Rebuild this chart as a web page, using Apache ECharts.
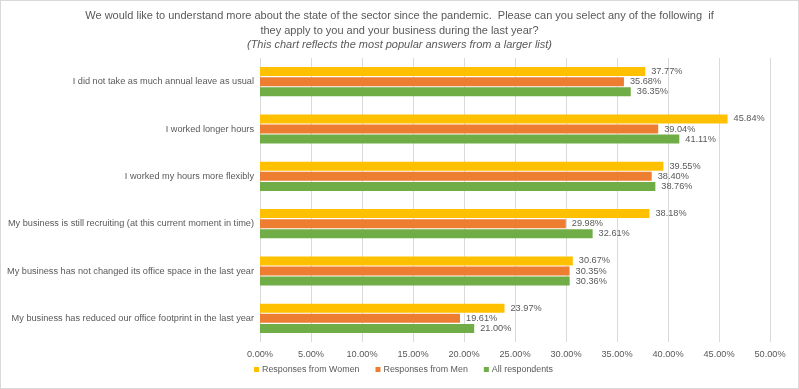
<!DOCTYPE html>
<html><head><meta charset="utf-8">
<script src="https://cdn.jsdelivr.net/npm/echarts@6/dist/echarts.min.js"></script>
<style>html,body{margin:0;padding:0;background:#fff}#c{width:799px;height:389px;box-sizing:border-box;border:1px solid #d9d9d9}</style>
</head><body><div id="c"></div>
<script>
const categories = [
  "I did not take as much annual leave as usual",
  "I worked longer hours",
  "I worked my hours more flexibly",
  "My business is still recruiting (at this current moment in time)",
  "My business has not changed its office space in the last year",
  "My business has reduced our office footprint in the last year"
];
const women = [37.77, 45.84, 39.55, 38.18, 30.67, 23.97];
const men = [35.68, 39.04, 38.40, 29.98, 30.35, 19.61];
const all = [36.35, 41.11, 38.76, 32.61, 30.36, 21.00];
const seriesNames = ["Responses from Women", "Responses from Men", "All respondents"];
const colors = ["#FFC000", "#ED7D31", "#70AD47"];

const chart = echarts.init(document.getElementById('c'));
const font = 'Liberation Sans, Arial, sans-serif';
const fs = 9.2;
const mk = (name, data, color) => ({
  name, type: 'bar', data, barWidth: 9, barGap: '12%',
  itemStyle: { color },
  label: { show: true, position: 'right', distance: 6, color: '#595959', fontSize: fs, fontFamily: font,
    formatter: p => p.value.toFixed(2) + '%' }
});
chart.setOption({
  animation: false,
  textStyle: { fontFamily: font },
  title: {
    text: 'We would like to understand more about the state of the sector since the pandemic.  Please can you select any of the following  if\nthey apply to you and your business during the last year?\n{i|(This chart reflects the most popular answers from a larger list)}',
    left: 'center', top: 3,
    textStyle: { fontSize: 11, fontWeight: 'normal', color: '#595959', lineHeight: 14.5, fontFamily: font, align: 'center',
      rich: { i: { fontStyle: 'italic', fontSize: 11, color: '#595959', lineHeight: 14.5, fontFamily: font } } }
  },
  legend: {
    bottom: 9, left: 248, itemWidth: 5, itemHeight: 5, itemGap: 16, icon: 'rect',
    textStyle: { color: '#595959', fontSize: 8.9, fontFamily: font, padding: [0, 0, 0, -2] },
    data: seriesNames
  },
  grid: { left: 259, right: 28, top: 57, bottom: 46, containLabel: false, outerBoundsMode: 'none' },
  xAxis: {
    type: 'value', min: 0, max: 50, interval: 5,
    axisLabel: { formatter: v => v.toFixed(2) + '%', color: '#595959', fontSize: fs, margin: 8 },
    splitLine: { lineStyle: { color: '#d9d9d9' } },
    axisLine: { show: false }, axisTick: { show: false }
  },
  yAxis: {
    type: 'category', data: categories, inverse: true,
    axisLabel: { color: '#595959', fontSize: fs, margin: 6 },
    axisLine: { show: false }, axisTick: { show: false }
  },
  series: [mk(seriesNames[0], women, colors[0]), mk(seriesNames[1], men, colors[1]), mk(seriesNames[2], all, colors[2])]
});
</script></body></html>
